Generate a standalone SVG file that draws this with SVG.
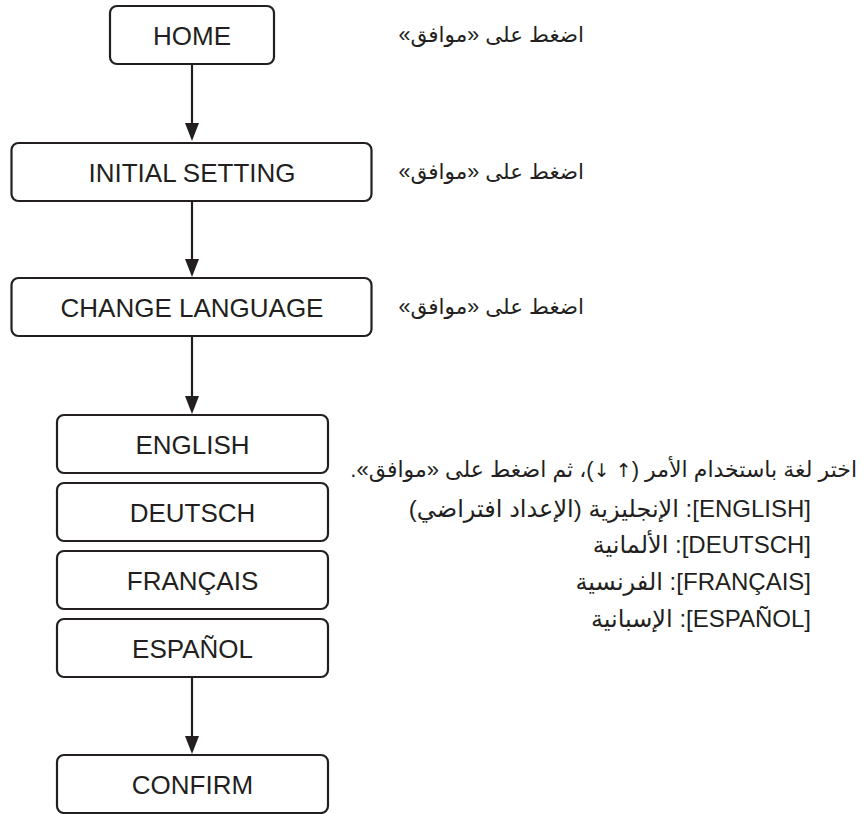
<svg xmlns="http://www.w3.org/2000/svg" width="867" height="814" viewBox="0 0 867 814">
<style>
.box{fill:#fff;stroke:#231f20;stroke-width:2.2}
.lbl{font-family:"Liberation Sans",Arial,sans-serif;font-size:26px;fill:#231f20;text-anchor:middle}
.ar{font-family:"Liberation Sans","DejaVu Sans",sans-serif;font-size:24px;fill:#231f20;direction:rtl;text-anchor:start}
.ok{font-size:21.5px}
.l1{font-size:22px}
.arw{font-family:"DejaVu Sans",sans-serif;font-size:19px}
.conn{stroke:#231f20;stroke-width:2.2;fill:none}
.head{fill:#231f20}
</style>
<rect width="867" height="814" fill="#fff"/>
<g id="connectors">
<line class="conn" x1="192" y1="64" x2="192" y2="124"/>
<path class="head" d="M185,123 L199,123 L192,141 Z"/>
<line class="conn" x1="192" y1="201" x2="192" y2="260"/>
<path class="head" d="M185,259 L199,259 L192,277 Z"/>
<line class="conn" x1="192" y1="336" x2="192" y2="397"/>
<path class="head" d="M185,396 L199,396 L192,414 Z"/>
<line class="conn" x1="192" y1="677" x2="192" y2="737"/>
<path class="head" d="M185,736 L199,736 L192,754 Z"/>
</g>
<g id="home"><rect class="box" x="110" y="6" width="164" height="58" rx="7"/><text class="lbl" x="192" y="45">HOME</text></g>
<g id="initial-setting"><rect class="box" x="11.5" y="143" width="360" height="58" rx="7"/><text class="lbl" x="192" y="182">INITIAL SETTING</text></g>
<g id="change-language"><rect class="box" x="11.5" y="278" width="360" height="58" rx="7"/><text class="lbl" x="192" y="317">CHANGE LANGUAGE</text></g>
<g id="english"><rect class="box" x="57" y="415" width="271" height="58" rx="7"/><text class="lbl" x="192.5" y="454">ENGLISH</text></g>
<g id="deutsch"><rect class="box" x="57" y="483" width="271" height="58" rx="7"/><text class="lbl" x="192.5" y="522">DEUTSCH</text></g>
<g id="francais"><rect class="box" x="57" y="551" width="271" height="58" rx="7"/><text class="lbl" x="192.5" y="590">FRANÇAIS</text></g>
<g id="espanol"><rect class="box" x="57" y="619" width="271" height="58" rx="7"/><text class="lbl" x="192.5" y="658">ESPAÑOL</text></g>
<g id="confirm"><rect class="box" x="57" y="755" width="271" height="58" rx="7"/><text class="lbl" x="192.5" y="794">CONFIRM</text></g>
<g id="notes">
<text class="ar ok" x="584" y="42">اضغط على «موافق»</text>
<text class="ar ok" x="584" y="179">اضغط على «موافق»</text>
<text class="ar ok" x="584" y="314">اضغط على «موافق»</text>
<text class="ar l1" x="857" y="477">اختر لغة باستخدام الأمر (<tspan class="arw">↑</tspan> <tspan class="arw">↓</tspan>)، ثم اضغط على «موافق».</text>
<text class="ar" x="811" y="517">[ENGLISH]: الإنجليزية (الإعداد افتراضي)</text>
<text class="ar" x="811" y="553">[DEUTSCH]: الألمانية</text>
<text class="ar" x="811" y="590">[FRANÇAIS]: الفرنسية</text>
<text class="ar" x="811" y="627">[ESPAÑOL]: الإسبانية</text>
</g>
</svg>
